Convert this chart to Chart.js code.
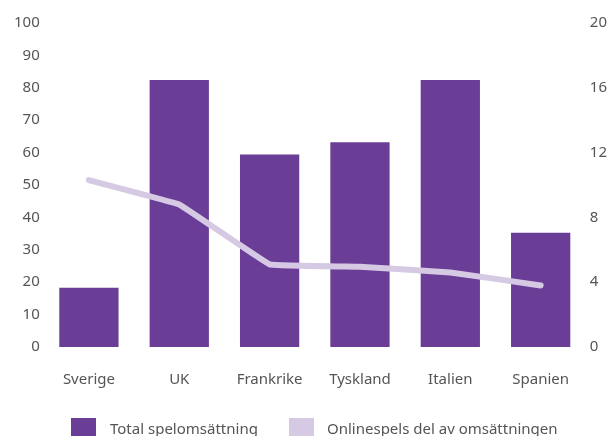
<!DOCTYPE html>
<html>
<head>
<meta charset="utf-8">
<script src="https://cdn.jsdelivr.net/npm/chart.js@4"></script>
<style>
  html, body { margin: 0; padding: 0; background: #fff; overflow: hidden; }
  #wrap { position: relative; width: 612px; height: 436px; overflow: hidden; }
  .leg-box { position: absolute; top: 418px; width: 25px; height: 20px; }
  .leg-text { position: absolute; top: 417px; font: 15px 'Noto Sans'; color: #555; line-height: 22px; white-space: nowrap; }
</style>
</head>
<body>
<div id="wrap">
  <canvas id="grafico" width="612" height="436"></canvas>
  <div id="legend"></div>
</div>
<script>
const lander = ['Sverige', 'UK', 'Frankrike', 'Tyskland', 'Italien', 'Spanien'];
const totalOmsattning = [18.3, 82.4, 59.4, 63.2, 82.4, 35.3];
const onlineAndel = [10.3, 8.8, 5.1, 4.95, 4.6, 3.8];

const lila = '#6A3D97';
const ljuslila = '#D5C9E3';
const textfarg = '#555';
const typsnitt = { family: 'Noto Sans', size: 15 };

const ctx = document.getElementById('grafico').getContext('2d');
const grafico = new Chart(ctx, {
    type: 'bar',
    data: {
        labels: lander,
        datasets: [{
            label: 'Total spelomsättning',
            data: totalOmsattning,
            backgroundColor: lila,
            yAxisID: 'y',
            order: 2,
            barPercentage: 0.656,
            categoryPercentage: 1
        }, {
            type: 'line',
            label: 'Onlinespels del av omsättningen',
            data: onlineAndel,
            borderColor: ljuslila,
            backgroundColor: ljuslila,
            borderWidth: 6,
            borderCapStyle: 'round',
            borderJoinStyle: 'round',
            pointRadius: 0,
            tension: 0.05,
            yAxisID: 'y1',
            order: 1
        }]
    },
    options: {
        responsive: false,
        animation: false,
        layout: { padding: { top: 23, left: 10, right: 1, bottom: 23 } },
        plugins: {
            legend: { display: false },
            tooltip: { enabled: false }
        },
        scales: {
            x: {
                grid: { display: false, drawTicks: false },
                border: { display: false },
                ticks: { color: textfarg, font: typsnitt, padding: 24 }
            },
            y: {
                position: 'left',
                min: 0,
                max: 100,
                grid: { display: false, drawTicks: false },
                border: { display: false },
                ticks: { stepSize: 10, color: textfarg, font: typsnitt, padding: 4 }
            },
            y1: {
                position: 'right',
                min: 0,
                max: 20,
                grid: { display: false, drawTicks: false },
                border: { display: false },
                ticks: { stepSize: 4, color: textfarg, font: typsnitt, padding: 4 }
            }
        }
    }
});

// Leyenda en HTML para controlar la separación
const legendPos = [[71, 110], [289, 327]];
const legend = document.getElementById('legend');
grafico.data.datasets.forEach((ds, i) => {
    const box = document.createElement('div');
    box.className = 'leg-box';
    box.style.left = legendPos[i][0] + 'px';
    box.style.background = ds.backgroundColor;
    const txt = document.createElement('div');
    txt.className = 'leg-text';
    txt.style.left = legendPos[i][1] + 'px';
    txt.textContent = ds.label;
    legend.appendChild(box);
    legend.appendChild(txt);
});
</script>
</body>
</html>
